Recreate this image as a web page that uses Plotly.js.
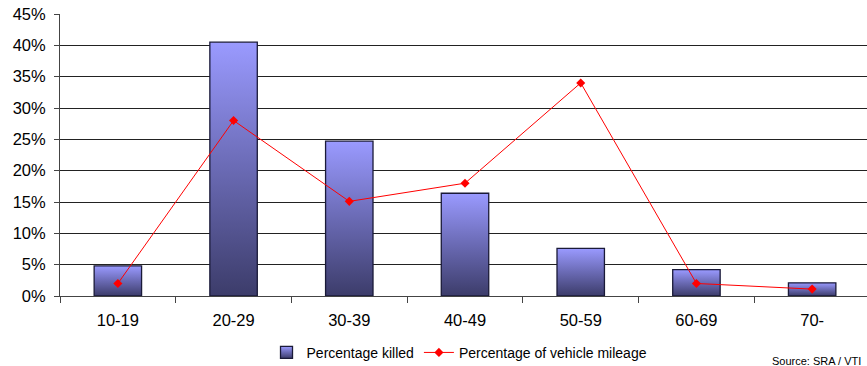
<!DOCTYPE html>
<html><head><meta charset="utf-8">
<script src="https://cdn.plot.ly/plotly-3.0.1.min.js"></script>
<style>html,body{margin:0;padding:0;background:#fff;}#chart{width:867px;height:366px;}</style>
</head><body>
<div id="chart"></div>
<script>
const categories = ["10-19","20-29","30-39","40-49","50-59","60-69","70-"];
const killed = [4.8, 40.5, 24.7, 16.4, 7.6, 4.2, 2.1];
const mileage = [2.0, 28.0, 15.1, 18.0, 34.0, 2.0, 1.1];
const yTickVals = [0,5,10,15,20,25,30,35,40,45];
const yTickText = ["0%","5%","10%","15%","20%","25%","30%","35%","40%","45%"];

const traces = [
  {type:'bar', x:categories, y:killed, name:'Percentage killed', width:0.41,
   marker:{color:'#7474c8', line:{color:'#1a1a38', width:1.3}}},
  {type:'scatter', mode:'lines+markers', x:categories, y:mileage, name:'Percentage of vehicle mileage',
   line:{color:'#ff0000', width:1}, marker:{symbol:'diamond', size:7, color:'#ff0000'}}
];
const layout = {
  width:867, height:366,
  margin:{l:60, r:0, t:14, b:70},
  paper_bgcolor:'#fff', plot_bgcolor:'#fff',
  font:{family:'Liberation Sans, Arial, sans-serif', color:'#000'},
  showlegend:true,
  legend:{orientation:'h', xref:'container', yref:'container', x:0.53, xanchor:'center', y:0.036, yanchor:'middle',
          font:{size:14}, traceorder:'normal', itemwidth:30},
  xaxis:{type:'category', range:[-0.5, 6.474], showline:true, linecolor:'#444', linewidth:1,
         ticks:'outside', tickson:'boundaries', ticklen:6, tickcolor:'#444', tickfont:{size:16.5},
         ticklabelstandoff:9, showgrid:false, fixedrange:true},
  yaxis:{range:[0,45], tickvals:yTickVals, ticktext:yTickText, showline:true, linecolor:'#444', linewidth:1,
         ticks:'outside', ticklen:5, tickcolor:'#444', tickfont:{size:16.5}, ticklabelstandoff:5,
         showgrid:true, gridcolor:'#222', gridwidth:1, zeroline:false, fixedrange:true},
  annotations:[{text:'Source: SRA / VTI', xref:'paper', yref:'paper', x:1, xanchor:'right', y:-0.22, yanchor:'top',
    showarrow:false, font:{size:11}, xshift:-4, yshift:5}],
  bargap:0.59
};
Plotly.newPlot('chart', traces, layout, {displayModeBar:false, staticPlot:true}).then(function(gd){
  const svg = gd.querySelector('svg.main-svg');
  const ns = 'http://www.w3.org/2000/svg';
  let defs = svg.querySelector('defs');
  const lg = document.createElementNS(ns,'linearGradient');
  lg.setAttribute('id','barGrad'); lg.setAttribute('x1','0'); lg.setAttribute('y1','0'); lg.setAttribute('x2','0'); lg.setAttribute('y2','1');
  [['0','#9a9aff'],['0.5','#6a6ab4'],['1','#3c3c6a']].forEach(function(s){
    const st = document.createElementNS(ns,'stop'); st.setAttribute('offset',s[0]); st.setAttribute('stop-color',s[1]); lg.appendChild(st);
  });
  defs.appendChild(lg);
  gd.querySelectorAll('.barlayer .point path').forEach(function(p){ p.style.fill='url(#barGrad)'; });
  gd.querySelectorAll('.legend .legendpoints path').forEach(function(p){
    if(p.style.fill && p.style.fill!=='none' && p.style.fill.indexOf('255, 0, 0')<0) p.style.fill='url(#barGrad)';
  });
});
</script>
</body></html>
